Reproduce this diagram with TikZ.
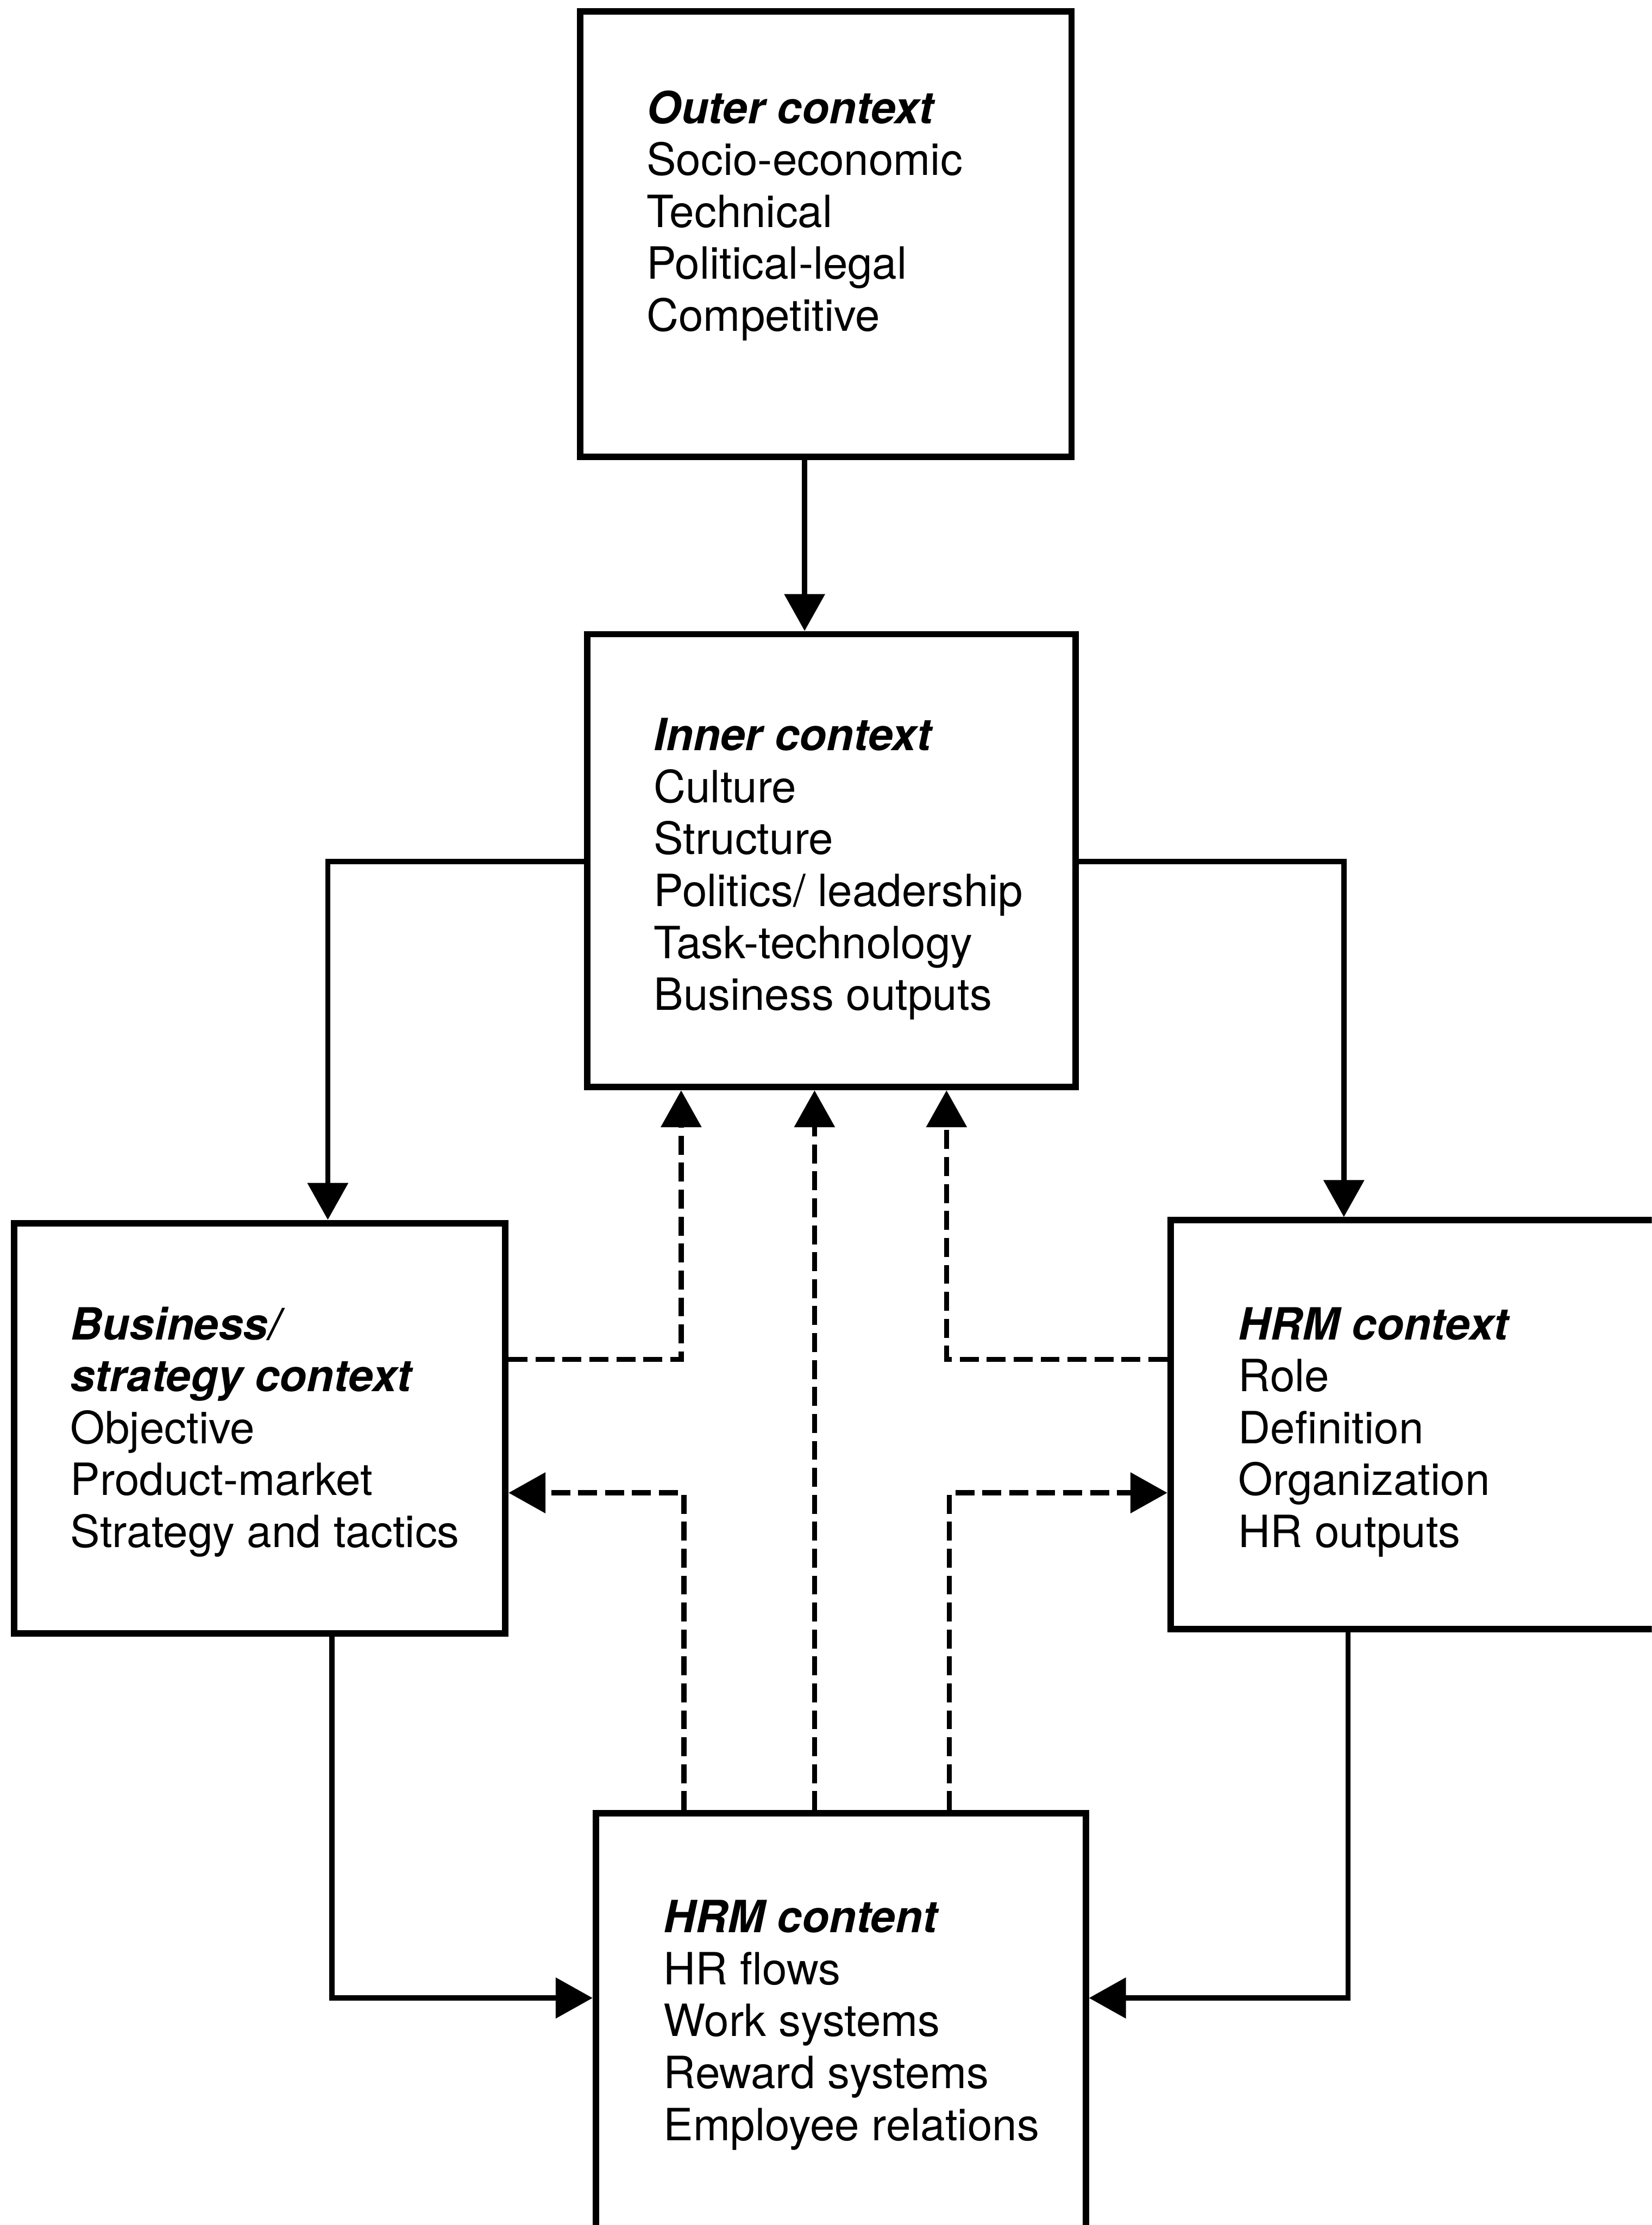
\documentclass[tikz,border=0pt]{standalone}
\usepackage{fontspec}
\setmainfont{TeX Gyre Heros}
\usetikzlibrary{arrows.meta}

% stacked list: the reference point is the baseline of the first row
\newcommand{\ctxlines}[1]{\begin{tabular}[t]{@{}l@{}}#1\end{tabular}}
\newcommand{\ctxhead}[1]{{\bfseries\itshape #1}}

\tikzset{
  ctxbox/.style={draw, line width=1.3pt, rectangle, inner sep=0pt},
  ctxtext/.style={anchor=base west, inner sep=0pt,
    font=\fontsize{8.9}{10.4}\selectfont},
  flow/.style={line width=1.05pt, -{Triangle[length=2.6mm,width=2.8mm]}},
  feedback/.style={flow, dash pattern=on 3.8pt off 1.6pt},
}

\begin{document}
\begin{tikzpicture}[x=0.01cm, y=-0.01cm]
  \clip (0,0) rectangle (1164,1568);
  \fill[white] (0,0) rectangle (1164,1568);

  % boxes
  \node[ctxbox, minimum width=3.46cm, minimum height=3.14cm] (outer) at (582,165) {};
  \node[ctxbox, minimum width=3.44cm, minimum height=3.19cm] (inner) at (586,606.5) {};
  \node[ctxbox, minimum width=3.46cm, minimum height=2.89cm] (bus) at (183,1006.5) {};
  \node[ctxbox, minimum width=3.45cm, minimum height=2.88cm] (hrmx) at (997.5,1004) {};
  \node[ctxbox, minimum width=3.45cm, minimum height=3.04cm] (cont) at (592.5,1430) {};

  % box contents
  \node[ctxtext] (outertext) at (455,87) {\ctxlines{\ctxhead{Outer context}\\
    Socio-economic\\ Technical\\ Political-legal\\ Competitive}};
  \node[ctxtext] (innertext) at (460,529) {\ctxlines{\ctxhead{Inner context}\\
    Culture\\ Structure\\ Politics/ leadership\\ Task-technology\\ Business outputs}};
  \node[ctxtext] (bustext) at (49,944) {\ctxlines{\ctxhead{Business/}\\
    \ctxhead{strategy context}\\ Objective\\ Product-market\\ Strategy and tactics}};
  \node[ctxtext] (hrmxtext) at (872,944) {\ctxlines{\ctxhead{HRM context}\\
    Role\\ Definition\\ Organization\\ HR outputs}};
  \node[ctxtext] (conttext) at (467,1362) {\ctxlines{\ctxhead{HRM content}\\
    HR flows\\ Work systems\\ Reward systems\\ Employee relations}};

  % solid links
  \draw[flow] (outer.south -| 567,0) -- (inner.north -| 567,0);
  \draw[flow] (inner.west |- 0,607) -| (bus.north -| 231,0);
  \draw[flow] (inner.east |- 0,607) -| (hrmx.north -| 947,0);
  \draw[flow] (bus.south -| 234,0) |- (cont.west |- 0,1408);
  \draw[flow] (hrmx.south -| 950,0) |- (cont.east |- 0,1408);

  % dashed feedback links
  \draw[feedback] (bus.east |- 0,958) -| (inner.south -| 480,0);
  \draw[feedback] (hrmx.west |- 0,958) -| (inner.south -| 667,0);
  \draw[feedback] (cont.north -| 574,0) -- (inner.south -| 574,0);
  \draw[feedback] (cont.north -| 482,0) |- (bus.east |- 0,1052);
  \draw[feedback] (cont.north -| 669,0) |- (hrmx.west |- 0,1052);
\end{tikzpicture}
\end{document}
